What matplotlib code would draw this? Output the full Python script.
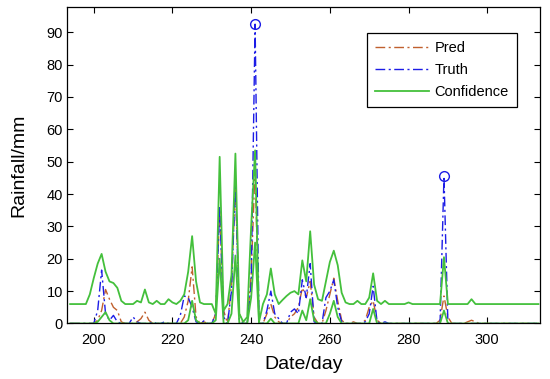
import numpy as np
import matplotlib
matplotlib.use("Agg")
import matplotlib.pyplot as plt

plt.rcParams['font.family'] = ['Liberation Sans', 'DejaVu Sans']

days = list(range(194, 314))

truth = [
    0, 0, 0, 0, 0, 0, 0, 4, 16.5, 3,          # 194-203
    1, 2.5, 0.5, 0, 0, 0, 2, 0.5, 0, 0,         # 204-213
    0, 0.5, 0, 0, 0.5, 0, 0, 0, 2.5, 8.5,       # 214-223
    8, 5, 0.5, 0, 0.8, 0, 0, 3, 36, 2,          # 224-233
    0, 10, 44, 1, 0, 0, 12, 92.5, 0, 0,         # 234-243
    4, 10, 3, 1.5, 0, 0, 3.5, 4.5, 3, 13.5,     # 244-253
    8, 18.5, 0.5, 0, 0, 8, 10, 13.5, 5, 0.5,    # 254-263
    0, 0, 0, 0, 0, 0.5, 3, 11.5, 0.5, 0,        # 264-273
    0.5, 0, 0, 0, 0, 0, 0, 0, 0, 0,             # 274-283
    0, 0, 0, 0, 0, 45.5, 0, 0, 0, 0,            # 284-293
    0, 0, 0, 0, 0, 0, 0, 0, 0, 0,               # 294-303
    0, 0, 0, 0, 0, 0, 0, 0, 0, 0,               # 304-313
]

pred = [
    0, 0, 0, 0, 0, 0, 0, 1, 4, 10.5,
    7.5, 5, 4, 0.5, 0, 0, 0, 0.5, 1.5, 3.5,
    1, 0, 0, 0, 0, 0, 0, 0, 0, 2,
    7, 17.5, 2, 0, 0.5, 0, 0, 3, 35, 4,
    0, 12, 43, 3, 0, 0, 15, 48, 0, 0,
    3, 6, 2, 0.5, 0, 0, 2, 3, 5, 11,
    8, 13, 2, 0, 0, 4, 9, 14, 7, 1,
    0, 0, 0.5, 0, 0, 1, 5, 7, 1, 0,
    0, 0, 0, 0, 0, 0, 0, 0, 0, 0,
    0, 0, 0, 0, 1, 8.5, 2, 0, 0, 0,
    0, 0.5, 1, 0.5, 0, 0, 0, 0, 0, 0,
    0, 0, 0, 0, 0, 0, 0, 0, 0, 0,
]

conf_hi = [
    6, 6, 6, 6, 6, 9, 14, 18.5, 21.5, 16,
    13, 12.5, 11, 7, 6, 6, 6, 7, 6.5, 10.5,
    6.5, 6, 7, 6, 6, 7.5, 6.5, 6, 7, 9,
    16, 27, 13, 6.5, 6, 6, 6, 3, 51.5, 4,
    6, 15, 52.5, 3, 0.5, 2, 30, 53.5, 0.5, 6,
    9, 17, 9, 6, 7.3, 8.5, 9.5, 10, 9, 19.5,
    13, 28.5, 12, 7.5, 7, 13, 19, 22.5, 18, 9.5,
    6.5, 6, 6, 7, 6, 6, 8, 15.5, 7, 6,
    7, 6, 6, 6, 6, 6, 6.5, 6, 6, 6,
    6, 6, 6, 6, 6, 20.5, 6, 6, 6, 6,
    6, 6, 7.5, 6, 6, 6, 6, 6, 6, 6,
    6, 6, 6, 6, 6, 6, 6, 6, 6, 6,
]

conf_lo = [
    0, 0, 0, 0, 0, 0, 0, 0.5, 2, 3.5,
    1, 0, 0, 0, 0, 0, 0, 0, 0, 0,
    0, 0, 0, 0, 0, 0, 0, 0, 0, 0,
    1, 7, 1, 0, 0, 0, 0, 1, 20, 0,
    0, 3, 21, 0, 0, 0, 8, 25, 0, 0,
    0, 1.5, 0, 0, 0, 0, 0, 0, 0, 4,
    1, 7.5, 1, 0, 0, 0, 3, 7, 2, 0,
    0, 0, 0, 0, 0, 0, 0, 4.5, 0, 0,
    0, 0, 0, 0, 0, 0, 0, 0, 0, 0,
    0, 0, 0, 0, 0, 4, 0, 0, 0, 0,
    0, 0, 0, 0, 0, 0, 0, 0, 0, 0,
    0, 0, 0, 0, 0, 0, 0, 0, 0, 0,
]

peak_days = [241, 289]
peak_vals = [92.5, 45.5]

xticks = [200, 220, 240, 260, 280, 300]
yticks = [0, 10, 20, 30, 40, 50, 60, 70, 80, 90]

pred_c = '#c0602e'
truth_c = '#1c1ce6'
conf_c = '#44c03c'
dashdot = (0, (7, 2.5, 1.5, 2.5))

fig = plt.figure(figsize=(5.5, 3.79), dpi=100)
ax = fig.add_axes([0.1218, 0.1465, 0.86, 0.835])

ax.plot(days, pred, color=pred_c, lw=1.0, linestyle=dashdot, label='Pred')
ax.plot(days, truth, color=truth_c, lw=1.0, linestyle=dashdot, label='Truth')
ax.plot(days, conf_hi, color=conf_c, lw=1.3, linestyle='-', label='Confidence')
ax.plot(days, conf_lo, color=conf_c, lw=1.3, linestyle='-')
ax.plot(peak_days, peak_vals, linestyle='none', marker='o', mfc='none',
        mec=truth_c, mew=1.0, ms=7)

ax.set_xlim(193.2, 313.4)
ax.set_ylim(0, 97.8)
ax.set_xticks(xticks)
ax.set_yticks(yticks)
ax.tick_params(direction='in', top=True, right=True, length=4, width=0.8,
               labelsize=10.5, colors='black')
ax.tick_params(axis='x', pad=7)
ax.tick_params(axis='y', pad=3)
for s in ax.spines.values():
    s.set_linewidth(0.9)
    s.set_color('black')

ax.set_xlabel('Date/day', fontsize=14, labelpad=6)
ax.set_ylabel('Rainfall/mm', fontsize=14, labelpad=14)

leg = ax.legend(loc='upper right', bbox_to_anchor=(0.951, 0.918), borderaxespad=0,
                fancybox=False, edgecolor='black', framealpha=1, fontsize=10.5,
                handlelength=3.7, handletextpad=0.35, labelspacing=0.55,
                borderpad=0.55)
leg.get_frame().set_linewidth(0.9)

fig.savefig('out.png', dpi=100)
